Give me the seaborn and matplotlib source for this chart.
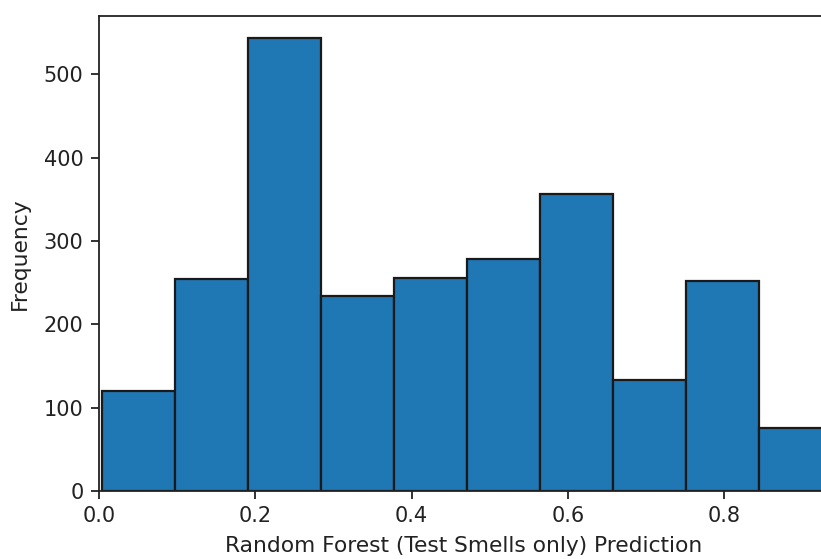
import matplotlib
matplotlib.use("Agg")
import matplotlib.pyplot as plt
import numpy as np
import pandas as pd
import seaborn as sns

# Histogram of prediction scores: bin edges and counts per bin
bin_edges = [0.0045, 0.0978, 0.1911, 0.2844, 0.3777, 0.4710,
             0.5643, 0.6576, 0.7509, 0.8442, 0.9375]
counts = [120, 254, 543, 234, 255, 278, 356, 133, 252, 76]

x_label = "Random Forest (Test Smells only) Prediction"
y_label = "Frequency"
x_ticks = [0.0, 0.2, 0.4, 0.6, 0.8]
y_ticks = [0, 100, 200, 300, 400, 500]

DPI = 100
W, H = 821, 559
fig = plt.figure(figsize=(W / DPI, H / DPI), dpi=DPI)

x_max = 0.934
px_per_unit = 782.0
left_px, bottom_px, top_px = 98.7, 491.0, 15.7
ax = fig.add_axes([left_px / W, (H - bottom_px) / H,
                   x_max * px_per_unit / W, (bottom_px - top_px) / H])

edges = np.array(bin_edges)
df = pd.DataFrame({"score": (edges[:-1] + edges[1:]) / 2, "n": counts})
sns.histplot(data=df, x="score", weights="n", bins=list(bin_edges), ax=ax,
             color="#1f77b4", alpha=1.0, edgecolor="#1a1a1a", linewidth=1.6)

text_color = "#222222"
ax.set_xlim(0, x_max)
ax.set_ylim(0, max(counts) * 1.05)
ax.set_xticks(x_ticks)
ax.set_yticks(y_ticks)
ax.tick_params(labelsize=15, length=6, width=1.3, pad=5,
               colors=text_color)
for s in ax.spines.values():
    s.set_linewidth(1.3)
    s.set_color(text_color)
ax.set_xlabel(x_label, fontsize=15.7, labelpad=7, color=text_color)
ax.set_ylabel(y_label, fontsize=15.7, labelpad=10, color=text_color)

fig.savefig("out.png", dpi=DPI)
